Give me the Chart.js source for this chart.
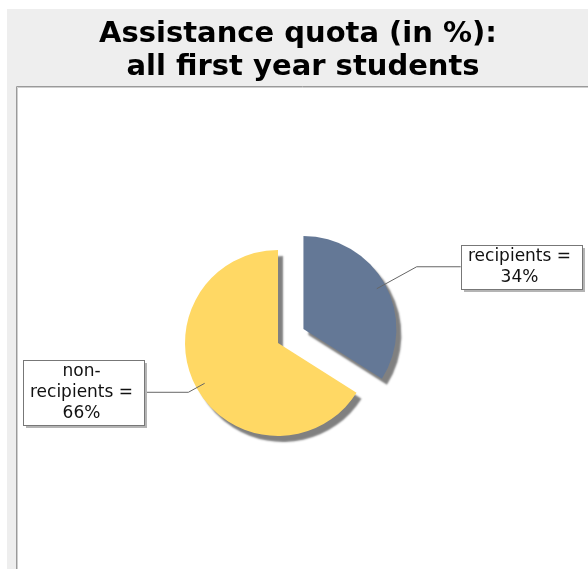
<!DOCTYPE html>
<html>
<head>
<meta charset="utf-8">
<script src="https://cdn.jsdelivr.net/npm/chart.js"></script>
<style>
  html, body { margin: 0; padding: 0; background: #fff; }
  canvas { display: block; }
</style>
</head>
<body>
<canvas id="quotaChart" width="588" height="569"></canvas>
<script>
// data
var categories = ["recipients", "non-recipients"];
var quota = [34, 66];
var sliceColors = ["#647896", "#FFD864"];
var explode = [29, 0];
var titleLines = ["Assistance quota (in %):", " all first year students"];

var W = 588, H = 569;
var PIE_X = 278, PIE_Y = 343, PIE_R = 93;

// where the label link bends, as a multiple of the radius
var elbowFactor = [1.39, 1.1];
var LINK_LEN = 44;
var LABEL_FONT = "17px 'DejaVu Sans'";
var LINE_H = 21;

var ctx = document.getElementById("quotaChart").getContext("2d");

// grey frame, white plot area and the two line title
var backgroundPlugin = {
  id: "background",
  beforeDraw: function (chart) {
    var c = chart.ctx;
    c.save();
    c.fillStyle = "#ffffff";
    c.fillRect(0, 0, W, H);
    c.fillStyle = "#eeeeee";
    c.fillRect(7, 9, W - 7, H - 9);
    c.fillStyle = "#ffffff";
    c.fillRect(16, 86, W - 16, H - 86);
    c.lineWidth = 1;
    c.strokeStyle = "#9a9a9a";
    c.beginPath();
    c.moveTo(16.5, H);
    c.lineTo(16.5, 86.5);
    c.lineTo(W, 86.5);
    c.stroke();
    c.strokeStyle = "#cfcfcf";
    c.beginPath();
    c.moveTo(17.5, H);
    c.lineTo(17.5, 87.5);
    c.lineTo(W, 87.5);
    c.stroke();

    c.fillStyle = "#000";
    c.font = "bold 29px 'DejaVu Sans'";
    c.textAlign = "center";
    c.textBaseline = "alphabetic";
    c.fillText(titleLines[0], 298, 42);
    c.fillText(titleLines[1], 298, 75);
    c.restore();
  }
};

// pull slices out of the pie along their middle angle
var explodePlugin = {
  id: "explode",
  afterDatasetUpdate: function (chart, args) {
    var ds = chart.data.datasets[args.index];
    args.meta.data.forEach(function (arc, i) {
      var d = (ds.explode || [])[i] || 0;
      var mid = (arc.startAngle + arc.endAngle) / 2;
      arc.x += Math.cos(mid) * d;
      arc.y += Math.sin(mid) * d;
    });
  }
};

// drop shadow under the slices
var shadowPlugin = {
  id: "pieShadow",
  beforeDatasetsDraw: function (chart) {
    var c = chart.ctx;
    c.save();
    c.shadowColor = "rgba(128,128,128,1)";
    c.shadowOffsetX = 5;
    c.shadowOffsetY = 6;
    c.shadowBlur = 2;
  },
  afterDatasetsDraw: function (chart) {
    chart.ctx.restore();
  }
};

function wrapLabel(c, text, maxW) {
  var parts = text.match(/[^ -]+-?/g);
  var lines = [];
  var cur = "";
  parts.forEach(function (p) {
    var joiner = cur === "" || cur.slice(-1) === "-" ? "" : " ";
    var trial = cur + joiner + p;
    if (cur && c.measureText(trial).width > maxW) {
      lines.push(cur);
      cur = p;
    } else {
      cur = trial;
    }
  });
  if (cur) lines.push(cur);
  return lines;
}

// boxed labels with link lines
var labelPlugin = {
  id: "sliceLabels",
  afterDraw: function (chart) {
    var c = chart.ctx;
    var meta = chart.getDatasetMeta(0);
    c.save();
    c.font = LABEL_FONT;
    meta.data.forEach(function (arc, i) {
      var mid = (arc.startAngle + arc.endAngle) / 2;
      var r = arc.outerRadius;
      var cos = Math.cos(mid), sin = Math.sin(mid);
      var ax = arc.x + cos * r * 0.9, ay = arc.y + sin * r * 0.9;
      var ex = arc.x + cos * r * elbowFactor[i], ey = arc.y + sin * r * elbowFactor[i];
      var side = cos >= 0 ? 1 : -1;
      var edge = ex + side * LINK_LEN;

      c.strokeStyle = "#666";
      c.lineWidth = 1;
      c.beginPath();
      c.moveTo(ax, ay);
      c.lineTo(ex, ey);
      c.lineTo(edge, ey);
      c.stroke();

      var text = categories[i] + " = " + chart.data.datasets[0].data[i] + "%";
      var lines = wrapLabel(c, text, 110);
      var tw = 0;
      lines.forEach(function (l) { tw = Math.max(tw, c.measureText(l).width); });
      var bw = Math.round(tw + 18), bh = lines.length * LINE_H + 2;
      var bx = Math.round(side > 0 ? edge : edge - bw);
      var by = Math.round(ey - bh / 2);

      c.fillStyle = "#b4b4b4";
      c.fillRect(bx + 3, by + 3, bw, bh);
      c.fillStyle = "#fff";
      c.fillRect(bx, by, bw, bh);
      c.strokeStyle = "#777";
      c.strokeRect(bx + 0.5, by + 0.5, bw, bh);

      c.fillStyle = "#111";
      c.textAlign = "center";
      c.textBaseline = "middle";
      lines.forEach(function (l, k) {
        c.fillText(l, bx + bw / 2 - 2, by + 1 + LINE_H * (k + 0.5));
      });
    });
    c.restore();
  }
};

var padRight = Math.max(W - 2 * PIE_X, 0);
var padLeft = Math.max(2 * PIE_X - W, 0);
var padTop = Math.max(2 * PIE_Y - H, 0);
var padBottom = Math.max(H - 2 * PIE_Y, 0);

var quotaChart = new Chart(ctx, {
  type: "pie",
  data: {
    labels: categories,
    datasets: [
      {
        data: quota,
        backgroundColor: sliceColors,
        borderWidth: 0,
        radius: PIE_R,
        explode: explode,
      },
    ],
  },
  options: {
    responsive: false,
    animation: false,
    events: [],
    layout: {
      padding: { left: padLeft, right: padRight, top: padTop, bottom: padBottom },
    },
    plugins: {
      legend: { display: false },
      tooltip: { enabled: false },
      title: { display: false },
    },
  },
  plugins: [backgroundPlugin, explodePlugin, shadowPlugin, labelPlugin],
});
</script>
</body>
</html>
